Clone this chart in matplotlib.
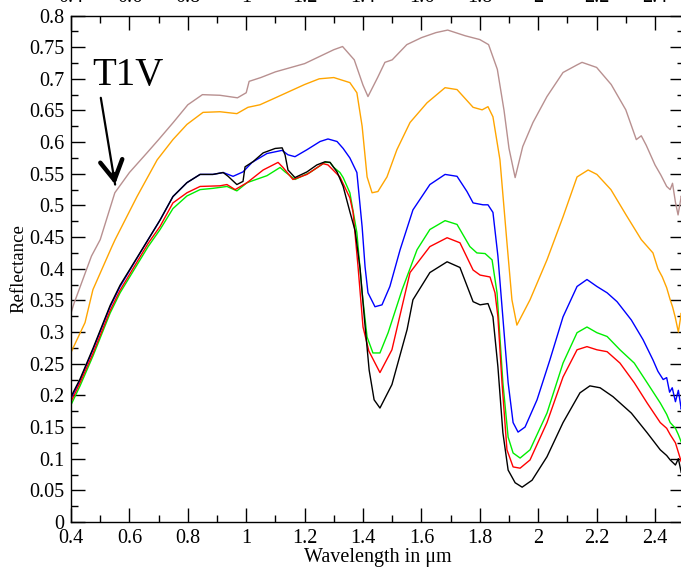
import matplotlib
matplotlib.use('Agg')
import matplotlib.pyplot as plt
from matplotlib.ticker import MultipleLocator

plt.rcParams['font.family'] = ['Liberation Serif', 'DejaVu Serif']

# spectra: wavelength (um) and reflectance for each sample
brown_wl = [0.40, 0.41, 0.43, 0.45, 0.47, 0.50, 0.55, 0.60, 0.66, 0.70, 0.75, 0.80, 0.85,
            0.91, 0.97, 1.00, 1.01, 1.05, 1.10, 1.20, 1.30, 1.33, 1.37, 1.40, 1.417, 1.45,
            1.475, 1.50, 1.55, 1.60, 1.65, 1.69, 1.75, 1.80, 1.83, 1.86, 1.883, 1.90, 1.921,
            1.947, 1.982, 2.03, 2.085, 2.133, 2.15, 2.20, 2.25, 2.30, 2.336, 2.353, 2.37,
            2.40, 2.42, 2.44, 2.452, 2.46, 2.47, 2.479, 2.49, 2.50]
brown_r = [0.330, 0.345, 0.370, 0.395, 0.420, 0.446, 0.520, 0.552, 0.583, 0.604, 0.631, 0.659, 0.675,
           0.674, 0.670, 0.678, 0.696, 0.702, 0.711, 0.724, 0.746, 0.751, 0.730, 0.690, 0.672, 0.702,
           0.726, 0.730, 0.754, 0.765, 0.773, 0.777, 0.768, 0.762, 0.754, 0.715, 0.650, 0.590, 0.544,
           0.593, 0.631, 0.672, 0.710, 0.722, 0.726, 0.718, 0.691, 0.651, 0.604, 0.610, 0.595,
           0.564, 0.548, 0.530, 0.525, 0.535, 0.505, 0.485, 0.515, 0.495]

orange_wl = [0.40, 0.448, 0.475, 0.540, 0.551, 0.626, 0.695, 0.749, 0.797, 0.852, 0.910, 0.968,
             1.006, 1.047, 1.10, 1.20, 1.25, 1.30, 1.355, 1.379, 1.397, 1.414, 1.431, 1.451,
             1.482, 1.516, 1.561, 1.619, 1.681, 1.722, 1.777, 1.808, 1.828, 1.845, 1.869, 1.893,
             1.910, 1.927, 1.972, 2.030, 2.085, 2.133, 2.171, 2.201, 2.249, 2.301, 2.353, 2.393,
             2.41, 2.425, 2.44, 2.452, 2.46, 2.469, 2.48, 2.490, 2.50]
orange_r = [0.268, 0.315, 0.367, 0.435, 0.446, 0.514, 0.572, 0.604, 0.628, 0.647, 0.648, 0.645,
            0.655, 0.659, 0.670, 0.691, 0.700, 0.702, 0.694, 0.678, 0.625, 0.545, 0.520, 0.522,
            0.545, 0.588, 0.631, 0.662, 0.686, 0.683, 0.655, 0.651, 0.656, 0.640, 0.572, 0.441,
            0.351, 0.311, 0.351, 0.414, 0.482, 0.545, 0.556, 0.549, 0.525, 0.485, 0.446, 0.425,
            0.400, 0.387, 0.370, 0.351, 0.340, 0.324, 0.300, 0.330, 0.310]

blue_wl = [0.40, 0.431, 0.475, 0.534, 0.568, 0.664, 0.705, 0.749, 0.797, 0.842, 0.886, 0.921,
           0.955, 0.989, 1.020, 1.071, 1.123, 1.143, 1.167, 1.208, 1.253, 1.280, 1.311, 1.332,
           1.355, 1.379, 1.397, 1.407, 1.417, 1.441, 1.465, 1.492, 1.527, 1.571, 1.629, 1.681,
           1.722, 1.756, 1.777, 1.811, 1.828, 1.845, 1.862, 1.883, 1.897, 1.914, 1.931, 1.955,
           1.996, 2.040, 2.085, 2.133, 2.167, 2.201, 2.236, 2.270, 2.319, 2.359, 2.393, 2.41,
           2.428, 2.44, 2.45, 2.459, 2.47, 2.48, 2.490, 2.50]
blue_r = [0.195, 0.224, 0.272, 0.340, 0.372, 0.446, 0.477, 0.514, 0.536, 0.549, 0.549, 0.552,
          0.546, 0.553, 0.568, 0.582, 0.587, 0.580, 0.577, 0.588, 0.601, 0.605, 0.601, 0.590,
          0.575, 0.552, 0.466, 0.403, 0.362, 0.340, 0.343, 0.372, 0.430, 0.493, 0.533, 0.549,
          0.546, 0.522, 0.504, 0.501, 0.501, 0.489, 0.420, 0.300, 0.220, 0.157, 0.142, 0.150,
          0.193, 0.256, 0.324, 0.372, 0.383, 0.372, 0.362, 0.348, 0.319, 0.288, 0.256, 0.238,
          0.225, 0.228, 0.205, 0.212, 0.190, 0.208, 0.178, 0.200]

green_wl = [0.40, 0.431, 0.475, 0.534, 0.568, 0.664, 0.705, 0.749, 0.797, 0.842, 0.886, 0.934,
            0.968, 1.003, 1.071, 1.116, 1.133, 1.167, 1.218, 1.270, 1.287, 1.300, 1.321, 1.332,
            1.355, 1.379, 1.397, 1.414, 1.434, 1.458, 1.486, 1.534, 1.585, 1.629, 1.681, 1.722,
            1.766, 1.790, 1.818, 1.842, 1.859, 1.879, 1.897, 1.914, 1.938, 1.972, 2.030, 2.085,
            2.133, 2.167, 2.201, 2.236, 2.280, 2.329, 2.373, 2.418, 2.44, 2.452, 2.47, 2.48,
            2.490, 2.50]
green_r = [0.185, 0.215, 0.262, 0.330, 0.362, 0.435, 0.462, 0.495, 0.515, 0.525, 0.527, 0.530,
           0.523, 0.536, 0.547, 0.560, 0.553, 0.541, 0.552, 0.568, 0.568, 0.560, 0.552, 0.544,
           0.520, 0.457, 0.362, 0.292, 0.267, 0.267, 0.299, 0.367, 0.430, 0.462, 0.476, 0.470,
           0.435, 0.425, 0.424, 0.414, 0.362, 0.220, 0.134, 0.109, 0.101, 0.114, 0.172, 0.251,
           0.299, 0.308, 0.299, 0.293, 0.272, 0.251, 0.220, 0.188, 0.170, 0.157, 0.148, 0.138,
           0.126, 0.140]

red_wl = [0.40, 0.431, 0.475, 0.534, 0.568, 0.664, 0.705, 0.749, 0.797, 0.842, 0.910, 0.934,
          0.962, 1.003, 1.047, 1.058, 1.109, 1.126, 1.160, 1.208, 1.263, 1.280, 1.321, 1.355,
          1.366, 1.383, 1.400, 1.420, 1.458, 1.499, 1.561, 1.629, 1.688, 1.732, 1.777, 1.801,
          1.835, 1.852, 1.862, 1.876, 1.893, 1.914, 1.938, 1.972, 2.030, 2.085, 2.133, 2.167,
          2.201, 2.236, 2.280, 2.329, 2.373, 2.418, 2.44, 2.452, 2.47, 2.48, 2.490, 2.50]
red_r = [0.190, 0.220, 0.266, 0.334, 0.366, 0.440, 0.467, 0.504, 0.520, 0.530, 0.531, 0.533,
         0.525, 0.536, 0.552, 0.556, 0.568, 0.560, 0.541, 0.549, 0.566, 0.564, 0.545, 0.512,
         0.489, 0.403, 0.308, 0.270, 0.236, 0.272, 0.394, 0.435, 0.449, 0.441, 0.398, 0.390,
         0.387, 0.362, 0.324, 0.220, 0.114, 0.087, 0.085, 0.098, 0.157, 0.229, 0.272, 0.277,
         0.272, 0.269, 0.251, 0.220, 0.188, 0.157, 0.148, 0.138, 0.125, 0.110, 0.095, 0.118]

black_wl = [0.40, 0.431, 0.475, 0.534, 0.568, 0.664, 0.705, 0.749, 0.797, 0.842, 0.886, 0.921,
            0.938, 0.968, 0.989, 0.996, 1.023, 1.058, 1.099, 1.123, 1.133, 1.143, 1.167, 1.208,
            1.242, 1.270, 1.287, 1.311, 1.332, 1.355, 1.373, 1.390, 1.405, 1.421, 1.438, 1.458,
            1.499, 1.551, 1.571, 1.629, 1.688, 1.732, 1.777, 1.801, 1.828, 1.845, 1.862, 1.879,
            1.897, 1.921, 1.945, 1.979, 2.030, 2.085, 2.143, 2.177, 2.212, 2.256, 2.319, 2.373,
            2.418, 2.44, 2.452, 2.47, 2.48, 2.490, 2.50]
black_r = [0.198, 0.226, 0.274, 0.342, 0.374, 0.446, 0.477, 0.514, 0.536, 0.549, 0.549, 0.552,
           0.546, 0.533, 0.538, 0.561, 0.569, 0.583, 0.590, 0.591, 0.580, 0.556, 0.544, 0.553,
           0.564, 0.569, 0.568, 0.553, 0.530, 0.490, 0.460, 0.400, 0.320, 0.240, 0.193, 0.180,
           0.217, 0.304, 0.351, 0.394, 0.411, 0.402, 0.348, 0.343, 0.345, 0.324, 0.245, 0.141,
           0.082, 0.062, 0.055, 0.066, 0.103, 0.157, 0.204, 0.215, 0.212, 0.198, 0.172, 0.141,
           0.114, 0.105, 0.098, 0.090, 0.100, 0.078, 0.085]

spectra = [
    (brown_wl, brown_r, '#b89090'),
    (orange_wl, orange_r, '#ffa500'),
    (blue_wl, blue_r, '#0000ff'),
    (green_wl, green_r, '#00ee00'),
    (red_wl, red_r, '#ff0000'),
    (black_wl, black_r, '#000000'),
]

fig = plt.figure(figsize=(6.81, 5.68), dpi=100)
ax = fig.add_axes([0.1043, 0.081, 0.9004, 0.8917])

for wl, r, col in spectra:
    ax.plot(wl, r, color=col, lw=1.0)

ax.set_xlim(0.4, 2.5)
ax.set_ylim(0, 0.8)
ax.xaxis.set_major_locator(MultipleLocator(0.2))
ax.xaxis.set_minor_locator(MultipleLocator(0.1))
ax.yaxis.set_major_locator(MultipleLocator(0.05))
ax.yaxis.set_minor_locator(MultipleLocator(0.025))
fmt = plt.FuncFormatter(lambda v, p: '%g' % round(v, 3))
ax.xaxis.set_major_formatter(fmt)
ax.yaxis.set_major_formatter(fmt)
ax.tick_params(which='both', direction='in', top=True, right=True,
               labelsize=14.5, width=1.0)
ax.tick_params(which='major', length=10, pad=5)
ax.tick_params(which='minor', length=5)
for s in ax.spines.values():
    s.set_linewidth(1.0)

# labels along the top edge, mostly running off the figure
top = ax.secondary_xaxis('top')
top.xaxis.set_major_locator(MultipleLocator(0.2))
top.xaxis.set_major_formatter(fmt)
top.tick_params(length=0, pad=6, labelsize=14.5)
top.spines['top'].set_visible(False)

ax.set_xlabel('Wavelength in μm', fontsize=14.5, labelpad=0)
ax.set_ylabel('Reflectance', fontsize=13.5, labelpad=1)

ax.text(0.471, 0.691, 'T1V', fontsize=28, va='baseline', ha='left')
# shaft and a heavier head for the label arrow
ax.annotate('', xy=(0.551, 0.533), xytext=(0.502, 0.670),
            arrowprops=dict(arrowstyle='-', lw=1.6, color='k', shrinkA=0, shrinkB=0))
ax.annotate('', xy=(0.551, 0.533), xytext=(0.545, 0.550),
            arrowprops=dict(arrowstyle='->,head_length=0.7,head_width=0.4', lw=3.2,
                            color='k', shrinkA=0, shrinkB=0, mutation_scale=20))

fig.savefig('out.png', dpi=100)
